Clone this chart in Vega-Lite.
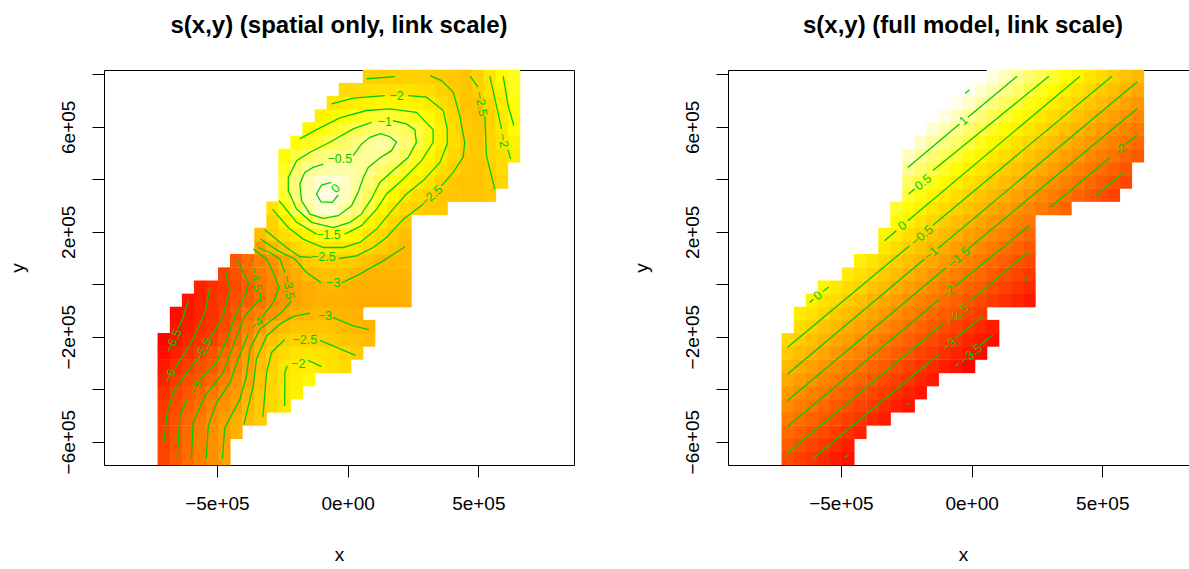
{"$schema":"https://vega.github.io/schema/vega-lite/v6.json","background":"white","padding":{"left":7,"top":13,"right":0,"bottom":0},"bounds":"flush","spacing":154,"resolve":{"scale":{"color":"independent"}},"config":{"font":"Liberation Sans","view":{"stroke":"#000","strokeWidth":1},"title":{"font":"Liberation Sans","fontSize":24,"fontWeight":"bold","color":"#000","offset":32},"axis":{"grid":false,"domain":false,"tickColor":"#000","tickSize":12,"tickWidth":1,"labelColor":"#000","titleColor":"#000","labelFont":"Liberation Sans","titleFont":"Liberation Sans","labelFontSize":19,"titleFontSize":19,"titleFontWeight":"normal"}},
"datasets":{
"L":[
{"x":-703,"y":-664,"v":-5.4},{"x":-656,"y":-664,"v":-5},{"x":-610,"y":-664,"v":-4.6},{"x":-564,"y":-664,"v":-4.2},{"x":-518,"y":-664,"v":-3.85},{"x":-472,"y":-664,"v":-3.45},
{"x":-703,"y":-614,"v":-5.5},{"x":-656,"y":-614,"v":-5.1},{"x":-610,"y":-614,"v":-4.6},{"x":-564,"y":-614,"v":-4.2},{"x":-518,"y":-614,"v":-3.85},{"x":-472,"y":-614,"v":-3.45},
{"x":-703,"y":-564,"v":-5.55},{"x":-656,"y":-564,"v":-5.1},{"x":-610,"y":-564,"v":-4.65},{"x":-564,"y":-564,"v":-4.2},{"x":-518,"y":-564,"v":-3.85},{"x":-472,"y":-564,"v":-3.5},{"x":-426,"y":-564,"v":-3.15},
{"x":-703,"y":-513,"v":-5.6},{"x":-656,"y":-513,"v":-5.15},{"x":-610,"y":-513,"v":-4.7},{"x":-564,"y":-513,"v":-4.3},{"x":-518,"y":-513,"v":-3.9},{"x":-472,"y":-513,"v":-3.55},{"x":-426,"y":-513,"v":-3.2},{"x":-379,"y":-513,"v":-2.85},{"x":-333,"y":-513,"v":-2.55},
{"x":-703,"y":-463,"v":-5.7},{"x":-656,"y":-463,"v":-5.3},{"x":-610,"y":-463,"v":-4.85},{"x":-564,"y":-463,"v":-4.5},{"x":-518,"y":-463,"v":-4.1},{"x":-472,"y":-463,"v":-3.8},{"x":-426,"y":-463,"v":-3.5},{"x":-379,"y":-463,"v":-2.95},{"x":-333,"y":-463,"v":-2.6},{"x":-287,"y":-463,"v":-2.3},{"x":-241,"y":-463,"v":-2},
{"x":-703,"y":-413,"v":-5.95},{"x":-656,"y":-413,"v":-5.45},{"x":-610,"y":-413,"v":-5.1},{"x":-564,"y":-413,"v":-4.75},{"x":-518,"y":-413,"v":-4.35},{"x":-472,"y":-413,"v":-3.95},{"x":-426,"y":-413,"v":-3.6},{"x":-379,"y":-413,"v":-3.15},{"x":-333,"y":-413,"v":-2.65},{"x":-287,"y":-413,"v":-2.3},{"x":-241,"y":-413,"v":-2},{"x":-195,"y":-413,"v":-1.75},
{"x":-703,"y":-363,"v":-6.2},{"x":-656,"y":-363,"v":-5.7},{"x":-610,"y":-363,"v":-5.3},{"x":-564,"y":-363,"v":-5},{"x":-518,"y":-363,"v":-4.7},{"x":-472,"y":-363,"v":-4.25},{"x":-426,"y":-363,"v":-3.8},{"x":-379,"y":-363,"v":-3.35},{"x":-333,"y":-363,"v":-2.75},{"x":-287,"y":-363,"v":-2.35},{"x":-241,"y":-363,"v":-2},{"x":-195,"y":-363,"v":-1.8},{"x":-149,"y":-363,"v":-1.6},
{"x":-703,"y":-313,"v":-6.45},{"x":-656,"y":-313,"v":-5.95},{"x":-610,"y":-313,"v":-5.65},{"x":-564,"y":-313,"v":-5.25},{"x":-518,"y":-313,"v":-5},{"x":-472,"y":-313,"v":-4.55},{"x":-426,"y":-313,"v":-4.05},{"x":-379,"y":-313,"v":-3.45},{"x":-333,"y":-313,"v":-2.85},{"x":-287,"y":-313,"v":-2.4},{"x":-241,"y":-313,"v":-2.05},{"x":-195,"y":-313,"v":-1.85},{"x":-149,"y":-313,"v":-1.8},{"x":-102,"y":-313,"v":-1.95},{"x":-56,"y":-313,"v":-2.1},{"x":-10,"y":-313,"v":-2.25},
{"x":-703,"y":-262,"v":-6.6},{"x":-656,"y":-262,"v":-6.25},{"x":-610,"y":-262,"v":-5.95},{"x":-564,"y":-262,"v":-5.55},{"x":-518,"y":-262,"v":-5.2},{"x":-472,"y":-262,"v":-4.7},{"x":-426,"y":-262,"v":-4.25},{"x":-379,"y":-262,"v":-3.55},{"x":-333,"y":-262,"v":-2.95},{"x":-287,"y":-262,"v":-2.5},{"x":-241,"y":-262,"v":-2.25},{"x":-195,"y":-262,"v":-2.1},{"x":-149,"y":-262,"v":-2},{"x":-102,"y":-262,"v":-2.1},{"x":-56,"y":-262,"v":-2.2},{"x":-10,"y":-262,"v":-2.35},{"x":36,"y":-262,"v":-2.55},
{"x":-703,"y":-212,"v":-6.8},{"x":-656,"y":-212,"v":-6.5},{"x":-610,"y":-212,"v":-6.15},{"x":-564,"y":-212,"v":-5.9},{"x":-518,"y":-212,"v":-5.6},{"x":-472,"y":-212,"v":-5.1},{"x":-426,"y":-212,"v":-4.6},{"x":-379,"y":-212,"v":-3.85},{"x":-333,"y":-212,"v":-3.15},{"x":-287,"y":-212,"v":-2.75},{"x":-241,"y":-212,"v":-2.5},{"x":-195,"y":-212,"v":-2.4},{"x":-149,"y":-212,"v":-2.4},{"x":-102,"y":-212,"v":-2.5},{"x":-56,"y":-212,"v":-2.6},{"x":-10,"y":-212,"v":-2.7},{"x":36,"y":-212,"v":-2.8},{"x":82,"y":-212,"v":-2.9},
{"x":-656,"y":-162,"v":-6.55},{"x":-610,"y":-162,"v":-6.3},{"x":-564,"y":-162,"v":-6},{"x":-518,"y":-162,"v":-5.75},{"x":-472,"y":-162,"v":-5.35},{"x":-426,"y":-162,"v":-4.75},{"x":-379,"y":-162,"v":-4.15},{"x":-333,"y":-162,"v":-3.65},{"x":-287,"y":-162,"v":-3.15},{"x":-241,"y":-162,"v":-2.9},{"x":-195,"y":-162,"v":-2.75},{"x":-149,"y":-162,"v":-2.7},{"x":-102,"y":-162,"v":-2.7},{"x":-56,"y":-162,"v":-2.8},{"x":-10,"y":-162,"v":-2.9},{"x":36,"y":-162,"v":-3},{"x":82,"y":-162,"v":-3.05},
{"x":-656,"y":-112,"v":-6.65},{"x":-610,"y":-112,"v":-6.45},{"x":-564,"y":-112,"v":-6.15},{"x":-518,"y":-112,"v":-5.85},{"x":-472,"y":-112,"v":-5.5},{"x":-426,"y":-112,"v":-5.05},{"x":-379,"y":-112,"v":-4.4},{"x":-333,"y":-112,"v":-4.1},{"x":-287,"y":-112,"v":-3.75},{"x":-241,"y":-112,"v":-3.4},{"x":-195,"y":-112,"v":-3.1},{"x":-149,"y":-112,"v":-3},{"x":-102,"y":-112,"v":-2.95},{"x":-56,"y":-112,"v":-3},{"x":-10,"y":-112,"v":-3.05},{"x":36,"y":-112,"v":-3.1},
{"x":-610,"y":-62,"v":-6.5},{"x":-564,"y":-62,"v":-6.2},{"x":-518,"y":-62,"v":-5.85},{"x":-472,"y":-62,"v":-5.6},{"x":-426,"y":-62,"v":-5.2},{"x":-379,"y":-62,"v":-4.9},{"x":-333,"y":-62,"v":-4.45},{"x":-287,"y":-62,"v":-4},{"x":-241,"y":-62,"v":-3.7},{"x":-195,"y":-62,"v":-3.4},{"x":-149,"y":-62,"v":-3.25},{"x":-102,"y":-62,"v":-3.15},{"x":-56,"y":-62,"v":-3.15},{"x":-10,"y":-62,"v":-3.15},{"x":36,"y":-62,"v":-3.2},{"x":82,"y":-62,"v":-3.2},{"x":128,"y":-62,"v":-3.2},{"x":175,"y":-62,"v":-3.2},{"x":221,"y":-62,"v":-3.15},
{"x":-564,"y":-12,"v":-6.2},{"x":-518,"y":-12,"v":-5.95},{"x":-472,"y":-12,"v":-5.7},{"x":-426,"y":-12,"v":-5.35},{"x":-379,"y":-12,"v":-5},{"x":-333,"y":-12,"v":-4.45},{"x":-287,"y":-12,"v":-4.1},{"x":-241,"y":-12,"v":-3.7},{"x":-195,"y":-12,"v":-3.35},{"x":-149,"y":-12,"v":-3.2},{"x":-102,"y":-12,"v":-3.05},{"x":-56,"y":-12,"v":-3.02},{"x":-10,"y":-12,"v":-3.05},{"x":36,"y":-12,"v":-3.15},{"x":82,"y":-12,"v":-3.15},{"x":128,"y":-12,"v":-3.15},{"x":175,"y":-12,"v":-3.15},{"x":221,"y":-12,"v":-3.1},
{"x":-472,"y":38,"v":-5.55},{"x":-426,"y":38,"v":-5.15},{"x":-379,"y":38,"v":-4.7},{"x":-333,"y":38,"v":-4.3},{"x":-287,"y":38,"v":-4},{"x":-241,"y":38,"v":-3.5},{"x":-195,"y":38,"v":-3.2},{"x":-149,"y":38,"v":-2.9},{"x":-102,"y":38,"v":-2.82},{"x":-56,"y":38,"v":-2.8},{"x":-10,"y":38,"v":-2.85},{"x":36,"y":38,"v":-2.95},{"x":82,"y":38,"v":-3.05},{"x":128,"y":38,"v":-3.05},{"x":175,"y":38,"v":-3.05},{"x":221,"y":38,"v":-3.05},
{"x":-426,"y":89,"v":-5.05},{"x":-379,"y":89,"v":-4.6},{"x":-333,"y":89,"v":-4.2},{"x":-287,"y":89,"v":-3.8},{"x":-241,"y":89,"v":-3.35},{"x":-195,"y":89,"v":-3},{"x":-149,"y":89,"v":-2.6},{"x":-102,"y":89,"v":-2.5},{"x":-56,"y":89,"v":-2.5},{"x":-10,"y":89,"v":-2.55},{"x":36,"y":89,"v":-2.65},{"x":82,"y":89,"v":-2.8},{"x":128,"y":89,"v":-2.98},{"x":175,"y":89,"v":-3},{"x":221,"y":89,"v":-3},
{"x":-333,"y":139,"v":-3.5},{"x":-287,"y":139,"v":-2.95},{"x":-241,"y":139,"v":-2.65},{"x":-195,"y":139,"v":-2.35},{"x":-149,"y":139,"v":-2.1},{"x":-102,"y":139,"v":-1.97},{"x":-56,"y":139,"v":-1.95},{"x":-10,"y":139,"v":-1.97},{"x":36,"y":139,"v":-2.05},{"x":82,"y":139,"v":-2.3},{"x":128,"y":139,"v":-2.5},{"x":175,"y":139,"v":-2.75},{"x":221,"y":139,"v":-3},
{"x":-333,"y":189,"v":-2.85},{"x":-287,"y":189,"v":-2.45},{"x":-241,"y":189,"v":-2.15},{"x":-195,"y":189,"v":-1.95},{"x":-149,"y":189,"v":-1.7},{"x":-102,"y":189,"v":-1.48},{"x":-56,"y":189,"v":-1.42},{"x":-10,"y":189,"v":-1.48},{"x":36,"y":189,"v":-1.65},{"x":82,"y":189,"v":-2.1},{"x":128,"y":189,"v":-2.3},{"x":175,"y":189,"v":-2.55},{"x":221,"y":189,"v":-2.85},
{"x":-287,"y":239,"v":-2.4},{"x":-241,"y":239,"v":-1.85},{"x":-195,"y":239,"v":-1.45},{"x":-149,"y":239,"v":-1.1},{"x":-102,"y":239,"v":-0.7},{"x":-56,"y":239,"v":-0.6},{"x":-10,"y":239,"v":-0.75},{"x":36,"y":239,"v":-1.15},{"x":82,"y":239,"v":-1.6},{"x":128,"y":239,"v":-1.95},{"x":175,"y":239,"v":-2.3},{"x":221,"y":239,"v":-2.55},
{"x":-287,"y":289,"v":-2},{"x":-241,"y":289,"v":-1.5},{"x":-195,"y":289,"v":-0.95},{"x":-149,"y":289,"v":-0.4},{"x":-102,"y":289,"v":-0.05},{"x":-56,"y":289,"v":-0.05},{"x":-10,"y":289,"v":-0.4},{"x":36,"y":289,"v":-0.7},{"x":82,"y":289,"v":-1.05},{"x":128,"y":289,"v":-1.6},{"x":175,"y":289,"v":-2},{"x":221,"y":289,"v":-2.3},{"x":267,"y":289,"v":-2.5},{"x":313,"y":289,"v":-2.6},{"x":359,"y":289,"v":-2.65},
{"x":-241,"y":340,"v":-1.2},{"x":-195,"y":340,"v":-0.7},{"x":-149,"y":340,"v":-0.2},{"x":-102,"y":340,"v":0.1},{"x":-56,"y":340,"v":0.12},{"x":-10,"y":340,"v":-0.15},{"x":36,"y":340,"v":-0.5},{"x":82,"y":340,"v":-0.9},{"x":128,"y":340,"v":-1.3},{"x":175,"y":340,"v":-1.65},{"x":221,"y":340,"v":-2},{"x":267,"y":340,"v":-2.25},{"x":313,"y":340,"v":-2.45},{"x":359,"y":340,"v":-2.65},{"x":405,"y":340,"v":-2.7},{"x":452,"y":340,"v":-2.75},{"x":498,"y":340,"v":-2.75},{"x":544,"y":340,"v":-2.65},
{"x":-241,"y":390,"v":-1.15},{"x":-195,"y":390,"v":-0.65},{"x":-149,"y":390,"v":-0.25},{"x":-102,"y":390,"v":0},{"x":-56,"y":390,"v":0.05},{"x":-10,"y":390,"v":-0.1},{"x":36,"y":390,"v":-0.4},{"x":82,"y":390,"v":-0.7},{"x":128,"y":390,"v":-1},{"x":175,"y":390,"v":-1.35},{"x":221,"y":390,"v":-1.6},{"x":267,"y":390,"v":-1.85},{"x":313,"y":390,"v":-2.1},{"x":359,"y":390,"v":-2.45},{"x":405,"y":390,"v":-2.65},{"x":452,"y":390,"v":-2.75},{"x":498,"y":390,"v":-2.7},{"x":544,"y":390,"v":-2.55},{"x":590,"y":390,"v":-2.35},
{"x":-241,"y":440,"v":-1.3},{"x":-195,"y":440,"v":-0.8},{"x":-149,"y":440,"v":-0.45},{"x":-102,"y":440,"v":-0.38},{"x":-56,"y":440,"v":-0.3},{"x":-10,"y":440,"v":-0.3},{"x":36,"y":440,"v":-0.4},{"x":82,"y":440,"v":-0.5},{"x":128,"y":440,"v":-0.75},{"x":175,"y":440,"v":-0.97},{"x":221,"y":440,"v":-1.25},{"x":267,"y":440,"v":-1.55},{"x":313,"y":440,"v":-1.8},{"x":359,"y":440,"v":-2.15},{"x":405,"y":440,"v":-2.45},{"x":452,"y":440,"v":-2.65},{"x":498,"y":440,"v":-2.7},{"x":544,"y":440,"v":-2.5},{"x":590,"y":440,"v":-2.2},
{"x":-241,"y":490,"v":-1.5},{"x":-195,"y":490,"v":-1.05},{"x":-149,"y":490,"v":-0.85},{"x":-102,"y":490,"v":-0.65},{"x":-56,"y":490,"v":-0.6},{"x":-10,"y":490,"v":-0.55},{"x":36,"y":490,"v":-0.47},{"x":82,"y":490,"v":-0.4},{"x":128,"y":490,"v":-0.45},{"x":175,"y":490,"v":-0.65},{"x":221,"y":490,"v":-0.9},{"x":267,"y":490,"v":-1.3},{"x":313,"y":490,"v":-1.6},{"x":359,"y":490,"v":-1.95},{"x":405,"y":490,"v":-2.3},{"x":452,"y":490,"v":-2.55},{"x":498,"y":490,"v":-2.65},{"x":544,"y":490,"v":-2.35},{"x":590,"y":490,"v":-2.15},{"x":636,"y":490,"v":-1.85},
{"x":-195,"y":540,"v":-1.5},{"x":-149,"y":540,"v":-1.3},{"x":-102,"y":540,"v":-1.15},{"x":-56,"y":540,"v":-0.95},{"x":-10,"y":540,"v":-0.8},{"x":36,"y":540,"v":-0.62},{"x":82,"y":540,"v":-0.45},{"x":128,"y":540,"v":-0.35},{"x":175,"y":540,"v":-0.45},{"x":221,"y":540,"v":-0.7},{"x":267,"y":540,"v":-1},{"x":313,"y":540,"v":-1.4},{"x":359,"y":540,"v":-1.8},{"x":405,"y":540,"v":-2.2},{"x":452,"y":540,"v":-2.52},{"x":498,"y":540,"v":-2.65},{"x":544,"y":540,"v":-2.4},{"x":590,"y":540,"v":-2.05},{"x":636,"y":540,"v":-1.75},
{"x":-149,"y":591,"v":-1.65},{"x":-102,"y":591,"v":-1.5},{"x":-56,"y":591,"v":-1.3},{"x":-10,"y":591,"v":-1.15},{"x":36,"y":591,"v":-0.97},{"x":82,"y":591,"v":-0.8},{"x":128,"y":591,"v":-0.75},{"x":175,"y":591,"v":-0.75},{"x":221,"y":591,"v":-0.85},{"x":267,"y":591,"v":-1.05},{"x":313,"y":591,"v":-1.35},{"x":359,"y":591,"v":-1.8},{"x":405,"y":591,"v":-2.2},{"x":452,"y":591,"v":-2.55},{"x":498,"y":591,"v":-2.7},{"x":544,"y":591,"v":-2.4},{"x":590,"y":591,"v":-2},{"x":636,"y":591,"v":-1.55},
{"x":-102,"y":641,"v":-1.75},{"x":-56,"y":641,"v":-1.6},{"x":-10,"y":641,"v":-1.5},{"x":36,"y":641,"v":-1.35},{"x":82,"y":641,"v":-1.25},{"x":128,"y":641,"v":-1.15},{"x":175,"y":641,"v":-1.15},{"x":221,"y":641,"v":-1.25},{"x":267,"y":641,"v":-1.4},{"x":313,"y":641,"v":-1.6},{"x":359,"y":641,"v":-1.9},{"x":405,"y":641,"v":-2.3},{"x":452,"y":641,"v":-2.6},{"x":498,"y":641,"v":-2.75},{"x":544,"y":641,"v":-2.4},{"x":590,"y":641,"v":-1.95},{"x":636,"y":641,"v":-1.5},
{"x":-56,"y":691,"v":-2},{"x":-10,"y":691,"v":-1.9},{"x":36,"y":691,"v":-1.8},{"x":82,"y":691,"v":-1.7},{"x":128,"y":691,"v":-1.65},{"x":175,"y":691,"v":-1.65},{"x":221,"y":691,"v":-1.65},{"x":267,"y":691,"v":-1.75},{"x":313,"y":691,"v":-1.9},{"x":359,"y":691,"v":-2.2},{"x":405,"y":691,"v":-2.45},{"x":452,"y":691,"v":-2.7},{"x":498,"y":691,"v":-2.7},{"x":544,"y":691,"v":-2.3},{"x":590,"y":691,"v":-1.85},{"x":636,"y":691,"v":-1.45},
{"x":-10,"y":741,"v":-2.25},{"x":36,"y":741,"v":-2.2},{"x":82,"y":741,"v":-2.15},{"x":128,"y":741,"v":-2.1},{"x":175,"y":741,"v":-2.1},{"x":221,"y":741,"v":-2.1},{"x":267,"y":741,"v":-2.15},{"x":313,"y":741,"v":-2.2},{"x":359,"y":741,"v":-2.4},{"x":405,"y":741,"v":-2.55},{"x":452,"y":741,"v":-2.75},{"x":498,"y":741,"v":-2.5},{"x":544,"y":741,"v":-2.1},{"x":590,"y":741,"v":-1.7},{"x":636,"y":741,"v":-1.35},
{"x":82,"y":791,"v":-2.5},{"x":128,"y":791,"v":-2.5},{"x":175,"y":791,"v":-2.5},{"x":221,"y":791,"v":-2.45},{"x":267,"y":791,"v":-2.45},{"x":313,"y":791,"v":-2.5},{"x":359,"y":791,"v":-2.55},{"x":405,"y":791,"v":-2.65},{"x":452,"y":791,"v":-2.75},{"x":498,"y":791,"v":-2.45},{"x":544,"y":791,"v":-2},{"x":590,"y":791,"v":-1.6},{"x":636,"y":791,"v":-1.3}
],
"R":[
{"x":-703,"y":-664,"v":-2.64},{"x":-656,"y":-664,"v":-2.83},{"x":-610,"y":-664,"v":-3.02},{"x":-564,"y":-664,"v":-3.21},{"x":-518,"y":-664,"v":-3.41},{"x":-472,"y":-664,"v":-3.6},
{"x":-703,"y":-614,"v":-2.39},{"x":-656,"y":-614,"v":-2.58},{"x":-610,"y":-614,"v":-2.77},{"x":-564,"y":-614,"v":-2.96},{"x":-518,"y":-614,"v":-3.16},{"x":-472,"y":-614,"v":-3.35},
{"x":-703,"y":-564,"v":-2.14},{"x":-656,"y":-564,"v":-2.33},{"x":-610,"y":-564,"v":-2.52},{"x":-564,"y":-564,"v":-2.71},{"x":-518,"y":-564,"v":-2.91},{"x":-472,"y":-564,"v":-3.1},{"x":-426,"y":-564,"v":-3.29},
{"x":-703,"y":-513,"v":-1.89},{"x":-656,"y":-513,"v":-2.08},{"x":-610,"y":-513,"v":-2.27},{"x":-564,"y":-513,"v":-2.46},{"x":-518,"y":-513,"v":-2.66},{"x":-472,"y":-513,"v":-2.85},{"x":-426,"y":-513,"v":-3.04},{"x":-379,"y":-513,"v":-3.23},{"x":-333,"y":-513,"v":-3.42},
{"x":-703,"y":-463,"v":-1.64},{"x":-656,"y":-463,"v":-1.83},{"x":-610,"y":-463,"v":-2.02},{"x":-564,"y":-463,"v":-2.21},{"x":-518,"y":-463,"v":-2.41},{"x":-472,"y":-463,"v":-2.6},{"x":-426,"y":-463,"v":-2.79},{"x":-379,"y":-463,"v":-2.98},{"x":-333,"y":-463,"v":-3.17},{"x":-287,"y":-463,"v":-3.36},{"x":-241,"y":-463,"v":-3.56},
{"x":-703,"y":-413,"v":-1.39},{"x":-656,"y":-413,"v":-1.58},{"x":-610,"y":-413,"v":-1.77},{"x":-564,"y":-413,"v":-1.96},{"x":-518,"y":-413,"v":-2.16},{"x":-472,"y":-413,"v":-2.35},{"x":-426,"y":-413,"v":-2.54},{"x":-379,"y":-413,"v":-2.73},{"x":-333,"y":-413,"v":-2.92},{"x":-287,"y":-413,"v":-3.11},{"x":-241,"y":-413,"v":-3.31},{"x":-195,"y":-413,"v":-3.5},
{"x":-703,"y":-363,"v":-1.14},{"x":-656,"y":-363,"v":-1.33},{"x":-610,"y":-363,"v":-1.52},{"x":-564,"y":-363,"v":-1.71},{"x":-518,"y":-363,"v":-1.91},{"x":-472,"y":-363,"v":-2.1},{"x":-426,"y":-363,"v":-2.29},{"x":-379,"y":-363,"v":-2.48},{"x":-333,"y":-363,"v":-2.67},{"x":-287,"y":-363,"v":-2.86},{"x":-241,"y":-363,"v":-3.06},{"x":-195,"y":-363,"v":-3.25},{"x":-149,"y":-363,"v":-3.44},
{"x":-703,"y":-313,"v":-0.89},{"x":-656,"y":-313,"v":-1.08},{"x":-610,"y":-313,"v":-1.27},{"x":-564,"y":-313,"v":-1.46},{"x":-518,"y":-313,"v":-1.66},{"x":-472,"y":-313,"v":-1.85},{"x":-426,"y":-313,"v":-2.04},{"x":-379,"y":-313,"v":-2.23},{"x":-333,"y":-313,"v":-2.42},{"x":-287,"y":-313,"v":-2.61},{"x":-241,"y":-313,"v":-2.81},{"x":-195,"y":-313,"v":-3},{"x":-149,"y":-313,"v":-3.19},{"x":-102,"y":-313,"v":-3.38},{"x":-56,"y":-313,"v":-3.57},{"x":-10,"y":-313,"v":-3.76},
{"x":-703,"y":-262,"v":-0.64},{"x":-656,"y":-262,"v":-0.83},{"x":-610,"y":-262,"v":-1.02},{"x":-564,"y":-262,"v":-1.21},{"x":-518,"y":-262,"v":-1.41},{"x":-472,"y":-262,"v":-1.6},{"x":-426,"y":-262,"v":-1.79},{"x":-379,"y":-262,"v":-1.98},{"x":-333,"y":-262,"v":-2.17},{"x":-287,"y":-262,"v":-2.36},{"x":-241,"y":-262,"v":-2.56},{"x":-195,"y":-262,"v":-2.75},{"x":-149,"y":-262,"v":-2.94},{"x":-102,"y":-262,"v":-3.13},{"x":-56,"y":-262,"v":-3.32},{"x":-10,"y":-262,"v":-3.51},{"x":36,"y":-262,"v":-3.7},
{"x":-703,"y":-212,"v":-0.39},{"x":-656,"y":-212,"v":-0.58},{"x":-610,"y":-212,"v":-0.77},{"x":-564,"y":-212,"v":-0.96},{"x":-518,"y":-212,"v":-1.16},{"x":-472,"y":-212,"v":-1.35},{"x":-426,"y":-212,"v":-1.54},{"x":-379,"y":-212,"v":-1.73},{"x":-333,"y":-212,"v":-1.92},{"x":-287,"y":-212,"v":-2.11},{"x":-241,"y":-212,"v":-2.31},{"x":-195,"y":-212,"v":-2.5},{"x":-149,"y":-212,"v":-2.69},{"x":-102,"y":-212,"v":-2.88},{"x":-56,"y":-212,"v":-3.07},{"x":-10,"y":-212,"v":-3.26},{"x":36,"y":-212,"v":-3.45},{"x":82,"y":-212,"v":-3.65},
{"x":-656,"y":-162,"v":-0.33},{"x":-610,"y":-162,"v":-0.52},{"x":-564,"y":-162,"v":-0.71},{"x":-518,"y":-162,"v":-0.91},{"x":-472,"y":-162,"v":-1.1},{"x":-426,"y":-162,"v":-1.29},{"x":-379,"y":-162,"v":-1.48},{"x":-333,"y":-162,"v":-1.67},{"x":-287,"y":-162,"v":-1.86},{"x":-241,"y":-162,"v":-2.06},{"x":-195,"y":-162,"v":-2.25},{"x":-149,"y":-162,"v":-2.44},{"x":-102,"y":-162,"v":-2.63},{"x":-56,"y":-162,"v":-2.82},{"x":-10,"y":-162,"v":-3.01},{"x":36,"y":-162,"v":-3.2},{"x":82,"y":-162,"v":-3.4},
{"x":-656,"y":-112,"v":-0.07},{"x":-610,"y":-112,"v":-0.26},{"x":-564,"y":-112,"v":-0.45},{"x":-518,"y":-112,"v":-0.65},{"x":-472,"y":-112,"v":-0.84},{"x":-426,"y":-112,"v":-1.03},{"x":-379,"y":-112,"v":-1.22},{"x":-333,"y":-112,"v":-1.41},{"x":-287,"y":-112,"v":-1.6},{"x":-241,"y":-112,"v":-1.8},{"x":-195,"y":-112,"v":-1.99},{"x":-149,"y":-112,"v":-2.18},{"x":-102,"y":-112,"v":-2.37},{"x":-56,"y":-112,"v":-2.56},{"x":-10,"y":-112,"v":-2.75},{"x":36,"y":-112,"v":-2.94},
{"x":-610,"y":-62,"v":-0.01},{"x":-564,"y":-62,"v":-0.2},{"x":-518,"y":-62,"v":-0.4},{"x":-472,"y":-62,"v":-0.59},{"x":-426,"y":-62,"v":-0.78},{"x":-379,"y":-62,"v":-0.97},{"x":-333,"y":-62,"v":-1.16},{"x":-287,"y":-62,"v":-1.35},{"x":-241,"y":-62,"v":-1.55},{"x":-195,"y":-62,"v":-1.74},{"x":-149,"y":-62,"v":-1.93},{"x":-102,"y":-62,"v":-2.12},{"x":-56,"y":-62,"v":-2.31},{"x":-10,"y":-62,"v":-2.5},{"x":36,"y":-62,"v":-2.69},{"x":82,"y":-62,"v":-2.89},{"x":128,"y":-62,"v":-3.08},{"x":175,"y":-62,"v":-3.27},{"x":221,"y":-62,"v":-3.46},
{"x":-564,"y":-12,"v":0.05},{"x":-518,"y":-12,"v":-0.15},{"x":-472,"y":-12,"v":-0.34},{"x":-426,"y":-12,"v":-0.53},{"x":-379,"y":-12,"v":-0.72},{"x":-333,"y":-12,"v":-0.91},{"x":-287,"y":-12,"v":-1.1},{"x":-241,"y":-12,"v":-1.3},{"x":-195,"y":-12,"v":-1.49},{"x":-149,"y":-12,"v":-1.68},{"x":-102,"y":-12,"v":-1.87},{"x":-56,"y":-12,"v":-2.06},{"x":-10,"y":-12,"v":-2.25},{"x":36,"y":-12,"v":-2.44},{"x":82,"y":-12,"v":-2.64},{"x":128,"y":-12,"v":-2.83},{"x":175,"y":-12,"v":-3.02},{"x":221,"y":-12,"v":-3.21},
{"x":-472,"y":38,"v":-0.09},{"x":-426,"y":38,"v":-0.28},{"x":-379,"y":38,"v":-0.47},{"x":-333,"y":38,"v":-0.66},{"x":-287,"y":38,"v":-0.85},{"x":-241,"y":38,"v":-1.05},{"x":-195,"y":38,"v":-1.24},{"x":-149,"y":38,"v":-1.43},{"x":-102,"y":38,"v":-1.62},{"x":-56,"y":38,"v":-1.81},{"x":-10,"y":38,"v":-2},{"x":36,"y":38,"v":-2.19},{"x":82,"y":38,"v":-2.39},{"x":128,"y":38,"v":-2.58},{"x":175,"y":38,"v":-2.77},{"x":221,"y":38,"v":-2.96},
{"x":-426,"y":89,"v":-0.03},{"x":-379,"y":89,"v":-0.22},{"x":-333,"y":89,"v":-0.41},{"x":-287,"y":89,"v":-0.6},{"x":-241,"y":89,"v":-0.8},{"x":-195,"y":89,"v":-0.99},{"x":-149,"y":89,"v":-1.18},{"x":-102,"y":89,"v":-1.37},{"x":-56,"y":89,"v":-1.56},{"x":-10,"y":89,"v":-1.75},{"x":36,"y":89,"v":-1.94},{"x":82,"y":89,"v":-2.14},{"x":128,"y":89,"v":-2.33},{"x":175,"y":89,"v":-2.52},{"x":221,"y":89,"v":-2.71},
{"x":-333,"y":139,"v":-0.16},{"x":-287,"y":139,"v":-0.35},{"x":-241,"y":139,"v":-0.55},{"x":-195,"y":139,"v":-0.74},{"x":-149,"y":139,"v":-0.93},{"x":-102,"y":139,"v":-1.12},{"x":-56,"y":139,"v":-1.31},{"x":-10,"y":139,"v":-1.5},{"x":36,"y":139,"v":-1.69},{"x":82,"y":139,"v":-1.89},{"x":128,"y":139,"v":-2.08},{"x":175,"y":139,"v":-2.27},{"x":221,"y":139,"v":-2.46},
{"x":-333,"y":189,"v":0.09},{"x":-287,"y":189,"v":-0.1},{"x":-241,"y":189,"v":-0.3},{"x":-195,"y":189,"v":-0.49},{"x":-149,"y":189,"v":-0.68},{"x":-102,"y":189,"v":-0.87},{"x":-56,"y":189,"v":-1.06},{"x":-10,"y":189,"v":-1.25},{"x":36,"y":189,"v":-1.44},{"x":82,"y":189,"v":-1.64},{"x":128,"y":189,"v":-1.83},{"x":175,"y":189,"v":-2.02},{"x":221,"y":189,"v":-2.21},
{"x":-287,"y":239,"v":0.15},{"x":-241,"y":239,"v":-0.05},{"x":-195,"y":239,"v":-0.24},{"x":-149,"y":239,"v":-0.43},{"x":-102,"y":239,"v":-0.62},{"x":-56,"y":239,"v":-0.81},{"x":-10,"y":239,"v":-1},{"x":36,"y":239,"v":-1.19},{"x":82,"y":239,"v":-1.39},{"x":128,"y":239,"v":-1.58},{"x":175,"y":239,"v":-1.77},{"x":221,"y":239,"v":-1.96},
{"x":-287,"y":289,"v":0.4},{"x":-241,"y":289,"v":0.2},{"x":-195,"y":289,"v":0.01},{"x":-149,"y":289,"v":-0.18},{"x":-102,"y":289,"v":-0.37},{"x":-56,"y":289,"v":-0.56},{"x":-10,"y":289,"v":-0.75},{"x":36,"y":289,"v":-0.94},{"x":82,"y":289,"v":-1.14},{"x":128,"y":289,"v":-1.33},{"x":175,"y":289,"v":-1.52},{"x":221,"y":289,"v":-1.71},{"x":267,"y":289,"v":-1.9},{"x":313,"y":289,"v":-2.09},{"x":359,"y":289,"v":-2.28},
{"x":-241,"y":340,"v":0.45},{"x":-195,"y":340,"v":0.26},{"x":-149,"y":340,"v":0.07},{"x":-102,"y":340,"v":-0.12},{"x":-56,"y":340,"v":-0.31},{"x":-10,"y":340,"v":-0.5},{"x":36,"y":340,"v":-0.69},{"x":82,"y":340,"v":-0.89},{"x":128,"y":340,"v":-1.08},{"x":175,"y":340,"v":-1.27},{"x":221,"y":340,"v":-1.46},{"x":267,"y":340,"v":-1.65},{"x":313,"y":340,"v":-1.84},{"x":359,"y":340,"v":-2.03},{"x":405,"y":340,"v":-2.23},{"x":452,"y":340,"v":-2.42},{"x":498,"y":340,"v":-2.61},{"x":544,"y":340,"v":-2.8},
{"x":-241,"y":390,"v":0.7},{"x":-195,"y":390,"v":0.51},{"x":-149,"y":390,"v":0.32},{"x":-102,"y":390,"v":0.13},{"x":-56,"y":390,"v":-0.06},{"x":-10,"y":390,"v":-0.25},{"x":36,"y":390,"v":-0.44},{"x":82,"y":390,"v":-0.64},{"x":128,"y":390,"v":-0.83},{"x":175,"y":390,"v":-1.02},{"x":221,"y":390,"v":-1.21},{"x":267,"y":390,"v":-1.4},{"x":313,"y":390,"v":-1.59},{"x":359,"y":390,"v":-1.78},{"x":405,"y":390,"v":-1.98},{"x":452,"y":390,"v":-2.17},{"x":498,"y":390,"v":-2.36},{"x":544,"y":390,"v":-2.55},{"x":590,"y":390,"v":-2.74},
{"x":-241,"y":440,"v":0.95},{"x":-195,"y":440,"v":0.76},{"x":-149,"y":440,"v":0.57},{"x":-102,"y":440,"v":0.38},{"x":-56,"y":440,"v":0.19},{"x":-10,"y":440,"v":0},{"x":36,"y":440,"v":-0.19},{"x":82,"y":440,"v":-0.39},{"x":128,"y":440,"v":-0.58},{"x":175,"y":440,"v":-0.77},{"x":221,"y":440,"v":-0.96},{"x":267,"y":440,"v":-1.15},{"x":313,"y":440,"v":-1.34},{"x":359,"y":440,"v":-1.53},{"x":405,"y":440,"v":-1.73},{"x":452,"y":440,"v":-1.92},{"x":498,"y":440,"v":-2.11},{"x":544,"y":440,"v":-2.3},{"x":590,"y":440,"v":-2.49},
{"x":-241,"y":490,"v":1.2},{"x":-195,"y":490,"v":1.01},{"x":-149,"y":490,"v":0.82},{"x":-102,"y":490,"v":0.63},{"x":-56,"y":490,"v":0.44},{"x":-10,"y":490,"v":0.25},{"x":36,"y":490,"v":0.06},{"x":82,"y":490,"v":-0.14},{"x":128,"y":490,"v":-0.33},{"x":175,"y":490,"v":-0.52},{"x":221,"y":490,"v":-0.71},{"x":267,"y":490,"v":-0.9},{"x":313,"y":490,"v":-1.09},{"x":359,"y":490,"v":-1.28},{"x":405,"y":490,"v":-1.48},{"x":452,"y":490,"v":-1.67},{"x":498,"y":490,"v":-1.86},{"x":544,"y":490,"v":-2.05},{"x":590,"y":490,"v":-2.24},{"x":636,"y":490,"v":-2.43},
{"x":-195,"y":540,"v":1.26},{"x":-149,"y":540,"v":1.07},{"x":-102,"y":540,"v":0.88},{"x":-56,"y":540,"v":0.69},{"x":-10,"y":540,"v":0.5},{"x":36,"y":540,"v":0.31},{"x":82,"y":540,"v":0.11},{"x":128,"y":540,"v":-0.08},{"x":175,"y":540,"v":-0.27},{"x":221,"y":540,"v":-0.46},{"x":267,"y":540,"v":-0.65},{"x":313,"y":540,"v":-0.84},{"x":359,"y":540,"v":-1.03},{"x":405,"y":540,"v":-1.23},{"x":452,"y":540,"v":-1.42},{"x":498,"y":540,"v":-1.61},{"x":544,"y":540,"v":-1.8},{"x":590,"y":540,"v":-1.99},{"x":636,"y":540,"v":-2.18},
{"x":-149,"y":591,"v":1.32},{"x":-102,"y":591,"v":1.13},{"x":-56,"y":591,"v":0.94},{"x":-10,"y":591,"v":0.75},{"x":36,"y":591,"v":0.56},{"x":82,"y":591,"v":0.36},{"x":128,"y":591,"v":0.17},{"x":175,"y":591,"v":-0.02},{"x":221,"y":591,"v":-0.21},{"x":267,"y":591,"v":-0.4},{"x":313,"y":591,"v":-0.59},{"x":359,"y":591,"v":-0.78},{"x":405,"y":591,"v":-0.98},{"x":452,"y":591,"v":-1.17},{"x":498,"y":591,"v":-1.36},{"x":544,"y":591,"v":-1.55},{"x":590,"y":591,"v":-1.74},{"x":636,"y":591,"v":-1.93},
{"x":-102,"y":641,"v":1.38},{"x":-56,"y":641,"v":1.19},{"x":-10,"y":641,"v":1},{"x":36,"y":641,"v":0.81},{"x":82,"y":641,"v":0.61},{"x":128,"y":641,"v":0.42},{"x":175,"y":641,"v":0.23},{"x":221,"y":641,"v":0.04},{"x":267,"y":641,"v":-0.15},{"x":313,"y":641,"v":-0.34},{"x":359,"y":641,"v":-0.53},{"x":405,"y":641,"v":-0.73},{"x":452,"y":641,"v":-0.92},{"x":498,"y":641,"v":-1.11},{"x":544,"y":641,"v":-1.3},{"x":590,"y":641,"v":-1.49},{"x":636,"y":641,"v":-1.68},
{"x":-56,"y":691,"v":1.44},{"x":-10,"y":691,"v":1.25},{"x":36,"y":691,"v":1.06},{"x":82,"y":691,"v":0.86},{"x":128,"y":691,"v":0.67},{"x":175,"y":691,"v":0.48},{"x":221,"y":691,"v":0.29},{"x":267,"y":691,"v":0.1},{"x":313,"y":691,"v":-0.09},{"x":359,"y":691,"v":-0.28},{"x":405,"y":691,"v":-0.48},{"x":452,"y":691,"v":-0.67},{"x":498,"y":691,"v":-0.86},{"x":544,"y":691,"v":-1.05},{"x":590,"y":691,"v":-1.24},{"x":636,"y":691,"v":-1.43},
{"x":-10,"y":741,"v":1.5},{"x":36,"y":741,"v":1.31},{"x":82,"y":741,"v":1.11},{"x":128,"y":741,"v":0.92},{"x":175,"y":741,"v":0.73},{"x":221,"y":741,"v":0.54},{"x":267,"y":741,"v":0.35},{"x":313,"y":741,"v":0.16},{"x":359,"y":741,"v":-0.03},{"x":405,"y":741,"v":-0.23},{"x":452,"y":741,"v":-0.42},{"x":498,"y":741,"v":-0.61},{"x":544,"y":741,"v":-0.8},{"x":590,"y":741,"v":-0.99},{"x":636,"y":741,"v":-1.18},
{"x":82,"y":791,"v":1.36},{"x":128,"y":791,"v":1.17},{"x":175,"y":791,"v":0.98},{"x":221,"y":791,"v":0.79},{"x":267,"y":791,"v":0.6},{"x":313,"y":791,"v":0.41},{"x":359,"y":791,"v":0.21},{"x":405,"y":791,"v":0.02},{"x":452,"y":791,"v":-0.17},{"x":498,"y":791,"v":-0.36},{"x":544,"y":791,"v":-0.55},{"x":590,"y":791,"v":-0.74},{"x":636,"y":791,"v":-0.93}
],
"LC":[
{"g":"0","x":-62,"y":388},{"g":"0","x":-100,"y":378},{"g":"0","x":-119,"y":344},{"g":"0","x":-102,"y":314},{"g":"0","x":-59,"y":312},{"g":"0","x":-36,"y":340},
{"g":"m05","x":21,"y":490},{"g":"m05","x":53,"y":534},{"g":"m05","x":85,"y":560},{"g":"m05","x":126,"y":574},{"g":"m05","x":162,"y":562},{"g":"m05","x":187,"y":541},{"g":"m05","x":168,"y":509},{"g":"m05","x":123,"y":481},{"g":"m05","x":79,"y":445},{"g":"m05","x":60,"y":407},{"g":"m05","x":40,"y":350},{"g":"m05","x":15,"y":299},{"g":"m05","x":-36,"y":261},{"g":"m05","x":-93,"y":251},{"g":"m05","x":-144,"y":267},{"g":"m05","x":-176,"y":318},{"g":"m05","x":-183,"y":382},{"g":"m05","x":-164,"y":426},{"g":"m05","x":-132,"y":445},{"g":"m05","x":-93,"y":458},
{"g":"m1","x":174,"y":623},{"g":"m1","x":225,"y":611},{"g":"m1","x":257,"y":589},{"g":"m1","x":263,"y":541},{"g":"m1","x":232,"y":484},{"g":"m1","x":174,"y":433},{"g":"m1","x":123,"y":388},{"g":"m1","x":91,"y":325},{"g":"m1","x":53,"y":267},{"g":"m1","x":9,"y":236},{"g":"m1","x":-55,"y":216},{"g":"m1","x":-138,"y":236},{"g":"m1","x":-195,"y":286},{"g":"m1","x":-227,"y":356},{"g":"m1","x":-227,"y":407},{"g":"m1","x":-195,"y":471},{"g":"m1","x":-144,"y":503},{"g":"m1","x":-68,"y":541},{"g":"m1","x":21,"y":592},{"g":"m1","x":91,"y":617},
{"g":"m15a","x":-183,"y":554},{"g":"m15a","x":-119,"y":589},{"g":"m15a","x":-30,"y":634},{"g":"m15a","x":72,"y":662},{"g":"m15a","x":162,"y":668},{"g":"m15a","x":263,"y":655},{"g":"m15a","x":327,"y":589},{"g":"m15a","x":327,"y":541},{"g":"m15a","x":283,"y":471},{"g":"m15a","x":213,"y":401},{"g":"m15a","x":149,"y":344},{"g":"m15a","x":111,"y":286},{"g":"m15a","x":53,"y":223},{"g":"m15a","x":-11,"y":191},
{"g":"m15b","x":-119,"y":191},{"g":"m15b","x":-195,"y":236},{"g":"m15b","x":-262,"y":318},
{"g":"m2a","x":-62,"y":687},{"g":"m2a","x":21,"y":709},{"g":"m2a","x":142,"y":719},
{"g":"m2b","x":232,"y":719},{"g":"m2b","x":302,"y":713},{"g":"m2b","x":366,"y":662},{"g":"m2b","x":381,"y":592},{"g":"m2b","x":381,"y":534},{"g":"m2b","x":353,"y":464},{"g":"m2b","x":289,"y":395},{"g":"m2b","x":225,"y":344},{"g":"m2b","x":174,"y":286},{"g":"m2b","x":111,"y":210},{"g":"m2b","x":47,"y":159},{"g":"m2b","x":-17,"y":140},{"g":"m2b","x":-93,"y":140},{"g":"m2b","x":-170,"y":172},{"g":"m2b","x":-227,"y":216},{"g":"m2b","x":-288,"y":286},
{"g":"m25a","x":-32,"y":98},{"g":"m25a","x":34,"y":108},{"g":"m25a","x":98,"y":140},{"g":"m25a","x":149,"y":178},{"g":"m25a","x":213,"y":248},{"g":"m25a","x":289,"y":305},
{"g":"m25b","x":359,"y":375},{"g":"m25b","x":404,"y":426},{"g":"m25b","x":442,"y":484},{"g":"m25b","x":448,"y":541},{"g":"m25b","x":429,"y":642},{"g":"m25b","x":404,"y":732},{"g":"m25b","x":359,"y":776},{"g":"m25b","x":315,"y":795},
{"g":"m25c","x":72,"y":783},{"g":"m25c","x":181,"y":791},
{"g":"m25d","x":-317,"y":208},{"g":"m25d","x":-234,"y":140},{"g":"m25d","x":-183,"y":105},{"g":"m25d","x":-138,"y":102},
{"g":"m25e","x":468,"y":793},{"g":"m25e","x":499,"y":751},
{"g":"m25f","x":525,"y":640},{"g":"m25f","x":531,"y":490},{"g":"m25f","x":563,"y":363},
{"g":"m2c","x":544,"y":793},{"g":"m2c","x":589,"y":592},
{"g":"m2d","x":614,"y":513},{"g":"m2d","x":623,"y":477},
{"g":"m15c","x":595,"y":793},{"g":"m15c","x":614,"y":681},{"g":"m15c","x":636,"y":604},
{"g":"m3a","x":-21,"y":6},{"g":"m3a","x":34,"y":32},{"g":"m3a","x":136,"y":89},{"g":"m3a","x":219,"y":143},
{"g":"m3b","x":-333,"y":172},{"g":"m3b","x":-266,"y":127},{"g":"m3b","x":-202,"y":96},{"g":"m3b","x":-157,"y":45},{"g":"m3b","x":-102,"y":6},
{"g":"m2e","x":-241,"y":-464},{"g":"m2e","x":-240,"y":-337},{"g":"m2e","x":-231,"y":-311},
{"g":"m2f","x":-151,"y":-290},{"g":"m2f","x":-100,"y":-314},
{"g":"m25g","x":-324,"y":-505},{"g":"m25g","x":-310,"y":-337},{"g":"m25g","x":-291,"y":-260},{"g":"m25g","x":-240,"y":-210},
{"g":"m25h","x":-106,"y":-214},{"g":"m25h","x":30,"y":-271},
{"g":"m3c","x":-397,"y":-534},{"g":"m3c","x":-361,"y":-388},{"g":"m3c","x":-349,"y":-286},{"g":"m3c","x":-310,"y":-197},{"g":"m3c","x":-259,"y":-152},{"g":"m3c","x":-208,"y":-123},{"g":"m3c","x":-144,"y":-110},
{"g":"m3d","x":-55,"y":-127},{"g":"m3d","x":21,"y":-159},{"g":"m3d","x":82,"y":-173},
{"g":"m35a","x":-479,"y":-665},{"g":"m35a","x":-470,"y":-547},{"g":"m35a","x":-412,"y":-439},{"g":"m35a","x":-387,"y":-350},{"g":"m35a","x":-374,"y":-248},{"g":"m35a","x":-336,"y":-172},{"g":"m35a","x":-253,"y":-108},{"g":"m35a","x":-215,"y":-63},
{"g":"m35b","x":-240,"y":45},{"g":"m35b","x":-259,"y":96},{"g":"m35b","x":-298,"y":121},{"g":"m35b","x":-342,"y":140},
{"g":"m4a","x":-541,"y":-665},{"g":"m4a","x":-533,"y":-540},{"g":"m4a","x":-501,"y":-451},{"g":"m4a","x":-450,"y":-375},{"g":"m4a","x":-419,"y":-286},{"g":"m4a","x":-380,"y":-190},
{"g":"m4b","x":-329,"y":-127},{"g":"m4b","x":-285,"y":-70},{"g":"m4b","x":-262,"y":-13},{"g":"m4b","x":-285,"y":45},{"g":"m4b","x":-310,"y":96},{"g":"m4b","x":-361,"y":134},
{"g":"m45a","x":-598,"y":-665},{"g":"m45a","x":-591,"y":-528},{"g":"m45a","x":-546,"y":-426},{"g":"m45a","x":-476,"y":-337},{"g":"m45a","x":-438,"y":-235},{"g":"m45a","x":-393,"y":-120},{"g":"m45a","x":-342,"y":-63},{"g":"m45a","x":-329,"y":-63},{"g":"m45a","x":-336,"y":-31},
{"g":"m45b","x":-365,"y":83},{"g":"m45b","x":-370,"y":96},
{"g":"m5a","x":-652,"y":-665},{"g":"m5a","x":-642,"y":-502},{"g":"m5a","x":-616,"y":-439},
{"g":"m5b","x":-565,"y":-362},{"g":"m5b","x":-501,"y":-299},{"g":"m5b","x":-457,"y":-197},{"g":"m5b","x":-425,"y":-108},{"g":"m5b","x":-387,"y":-32},{"g":"m5b","x":-380,"y":7},{"g":"m5b","x":-425,"y":96},
{"g":"m55a","x":-702,"y":-600},{"g":"m55a","x":-690,"y":-489},{"g":"m55a","x":-667,"y":-413},{"g":"m55a","x":-616,"y":-337},{"g":"m55a","x":-575,"y":-286},
{"g":"m55b","x":-527,"y":-210},{"g":"m55b","x":-476,"y":-120},{"g":"m55b","x":-450,"y":-19},{"g":"m55b","x":-466,"y":45},
{"g":"m6a","x":-527,"y":-13},{"g":"m6a","x":-546,"y":-108},{"g":"m6a","x":-591,"y":-210},{"g":"m6a","x":-661,"y":-322},
{"g":"m65a","x":-610,"y":-63},{"g":"m65a","x":-629,"y":-127},{"g":"m65a","x":-648,"y":-169}
],
"RC":[
{"g":"p15","x":-25,"y":728},{"g":"p15","x":-8,"y":740},
{"g":"p1a","x":-244,"y":445},{"g":"p1a","x":-46,"y":611},
{"g":"p1b","x":-14,"y":636},{"g":"p1b","x":174,"y":793},
{"g":"p05a","x":-241,"y":344},{"g":"p05a","x":-218,"y":363},
{"g":"p05b","x":-148,"y":433},{"g":"p05b","x":296,"y":793},
{"g":"z0a","x":-620,"y":-70},{"g":"z0a","x":-605,"y":-57},
{"g":"z0b","x":-569,"y":-28},{"g":"z0b","x":-547,"y":-11},
{"g":"z0c","x":-333,"y":166},{"g":"z0c","x":-288,"y":204},
{"g":"z0d","x":-244,"y":242},{"g":"z0d","x":415,"y":793},
{"g":"m05a","x":-705,"y":-241},{"g":"m05a","x":-237,"y":147},
{"g":"m05b","x":-148,"y":225},{"g":"m05b","x":537,"y":793},
{"g":"m1a","x":-705,"y":-343},{"g":"m1a","x":-180,"y":96},
{"g":"m1b","x":-129,"y":136},{"g":"m1b","x":634,"y":772},
{"g":"m15a","x":-705,"y":-444},{"g":"m15a","x":-97,"y":64},
{"g":"m15b","x":-14,"y":134},{"g":"m15b","x":634,"y":670},
{"g":"m2a","x":-705,"y":-543},{"g":"m2a","x":-123,"y":-57},
{"g":"m2b","x":-65,"y":-10},{"g":"m2b","x":222,"y":225},
{"g":"m2c","x":298,"y":290},{"g":"m2c","x":527,"y":481},
{"g":"m2d","x":591,"y":534},{"g":"m2d","x":633,"y":569},
{"g":"m25a","x":-705,"y":-644},{"g":"m25a","x":-104,"y":-146},
{"g":"m25b","x":-10,"y":-67},{"g":"m25b","x":219,"y":124},
{"g":"m25c","x":476,"y":340},{"g":"m25c","x":587,"y":430},
{"g":"m3a","x":-607,"y":-664},{"g":"m3a","x":-126,"y":-267},
{"g":"m3b","x":-63,"y":-207},{"g":"m3b","x":43,"y":-121},
{"g":"m3c","x":202,"y":13},{"g":"m3c","x":218,"y":26},
{"g":"m35a","x":-486,"y":-661},{"g":"m35a","x":-471,"y":-651},
{"g":"m35b","x":-246,"y":-461},{"g":"m35b","x":-237,"y":-454},
{"g":"m35c","x":-63,"y":-311},{"g":"m35c","x":-50,"y":-301},
{"g":"m35d","x":33,"y":-233},{"g":"m35d","x":81,"y":-194}
]
},
"hconcat":[
{"width":470,"height":395,"title":"s(x,y) (spatial only, link scale)","encoding":{"x":{"field":"x","type":"quantitative","scale":{"domain":[-932,866],"nice":false,"zero":false},"axis":{"values":[-500,0,500],"title":"x","labelPadding":17,"titlePadding":32,"labelExpr":"datum.value==-500?'−5e+05':datum.value==500?'5e+05':'0e+00'"}},"y":{"field":"y","type":"quantitative","scale":{"domain":[-689,816.4],"nice":false,"zero":false},"axis":{"values":[-600,-400,-200,0,200,400,600,800],"title":"y","labelAngle":-90,"labelAlign":"center","labelBaseline":"bottom","labelPadding":14,"titlePadding":32,"labelExpr":"datum.value==-600?'−6e+05':datum.value==-200?'−2e+05':datum.value==200?'2e+05':datum.value==600?'6e+05':''"}}},
"layer":[
{"data":{"name":"L"},"mark":{"type":"rect","width":12.6,"height":13.7},"encoding":{"color":{"field":"v","type":"quantitative","legend":null,"scale":{"domain":[-6.9,0.25],"interpolate":"rgb","range":["#ff0000","#ff5400","#ffa800","#fffc00","#fffff5"]}}}},
{"data":{"name":"LC"},"mark":{"type":"line","color":"#00cd00","strokeWidth":1.3},"encoding":{"detail":{"field":"g"},"order":{"value":null}}},
{"data":{"values":[{"x":142,"y":620,"t":"−1"},{"x":-74,"y":188,"t":"−1.5"},{"x":187,"y":716,"t":"−2"},{"x":-93,"y":102,"t":"−2.5"},{"x":-55,"y":6,"t":"−3"},{"x":-87,"y":-123,"t":"−3"},{"x":-164,"y":-214,"t":"−2.5"},{"x":-189,"y":-305,"t":"−2"},{"x":-30,"y":477,"t":"−0.5"}]},"mark":{"type":"text","color":"#00cd00","fontSize":12.5},"encoding":{"text":{"field":"t"}}},
{"data":{"values":[{"x":-46,"y":365,"t":"0"},{"x":321,"y":337,"t":"−2.5"},{"x":-349,"y":-152,"t":"−4"}]},"mark":{"type":"text","color":"#00cd00","fontSize":12.5,"angle":-42},"encoding":{"text":{"field":"t"}}},
{"data":{"values":[{"x":510,"y":687,"t":"−2.5"},{"x":595,"y":547,"t":"−2"},{"x":-227,"y":-12,"t":"−3.5"},{"x":-352,"y":19,"t":"−4.5"}]},"mark":{"type":"text","color":"#00cd00","fontSize":12.5,"angle":80},"encoding":{"text":{"field":"t"}}},
{"data":{"values":[{"x":-581,"y":-394,"t":"−5"},{"x":-552,"y":-250,"t":"−5.5"},{"x":-680,"y":-350,"t":"−6"},{"x":-667,"y":-216,"t":"−6.5"}]},"mark":{"type":"text","color":"#00cd00","fontSize":12.5,"angle":-65},"encoding":{"text":{"field":"t"}}}
]},
{"width":461,"height":395,"title":{"text":"s(x,y) (full model, link scale)","dx":4.5},"encoding":{"x":{"field":"x","type":"quantitative","scale":{"domain":[-932,831.8],"nice":false,"zero":false},"axis":{"values":[-500,0,500],"title":"x","titleX":235,"labelPadding":17,"titlePadding":32,"labelExpr":"datum.value==-500?'−5e+05':datum.value==500?'5e+05':'0e+00'"}},"y":{"field":"y","type":"quantitative","scale":{"domain":[-689,816.4],"nice":false,"zero":false},"axis":{"values":[-600,-400,-200,0,200,400,600,800],"title":"y","labelAngle":-90,"labelAlign":"center","labelBaseline":"bottom","labelPadding":14,"titlePadding":32,"labelExpr":"datum.value==-600?'−6e+05':datum.value==-200?'−2e+05':datum.value==200?'2e+05':datum.value==600?'6e+05':''"}}},
"layer":[
{"data":{"name":"R"},"mark":{"type":"rect","width":12.6,"height":13.7},"encoding":{"color":{"field":"v","type":"quantitative","legend":null,"scale":{"domain":[-3.85,1.5],"interpolate":"rgb","range":["#ff0000","#ff5400","#ffa800","#fffc00","#fffff5"]}}}},
{"data":{"name":"RC"},"mark":{"type":"line","color":"#00cd00","strokeWidth":1.3},"encoding":{"detail":{"field":"g"},"order":{"value":null}}},
{"data":{"values":[{"x":-31,"y":623,"t":"1"},{"x":-186,"y":388,"t":"0.5"},{"x":-588,"y":-44,"t":"0"},{"x":-265,"y":223,"t":"0"},{"x":-190,"y":185,"t":"−0.5"},{"x":-155,"y":117,"t":"−1"},{"x":-49,"y":102,"t":"−1.5"},{"x":-91,"y":-32,"t":"−2"},{"x":566,"y":509,"t":"−2"},{"x":-53,"y":-114,"t":"−2.5"},{"x":-84,"y":-232,"t":"−3"},{"x":-1,"y":-267,"t":"−3.5"}]},"mark":{"type":"text","color":"#00cd00","fontSize":12.5,"angle":-40},"encoding":{"text":{"field":"t"}}}
]}
]}
